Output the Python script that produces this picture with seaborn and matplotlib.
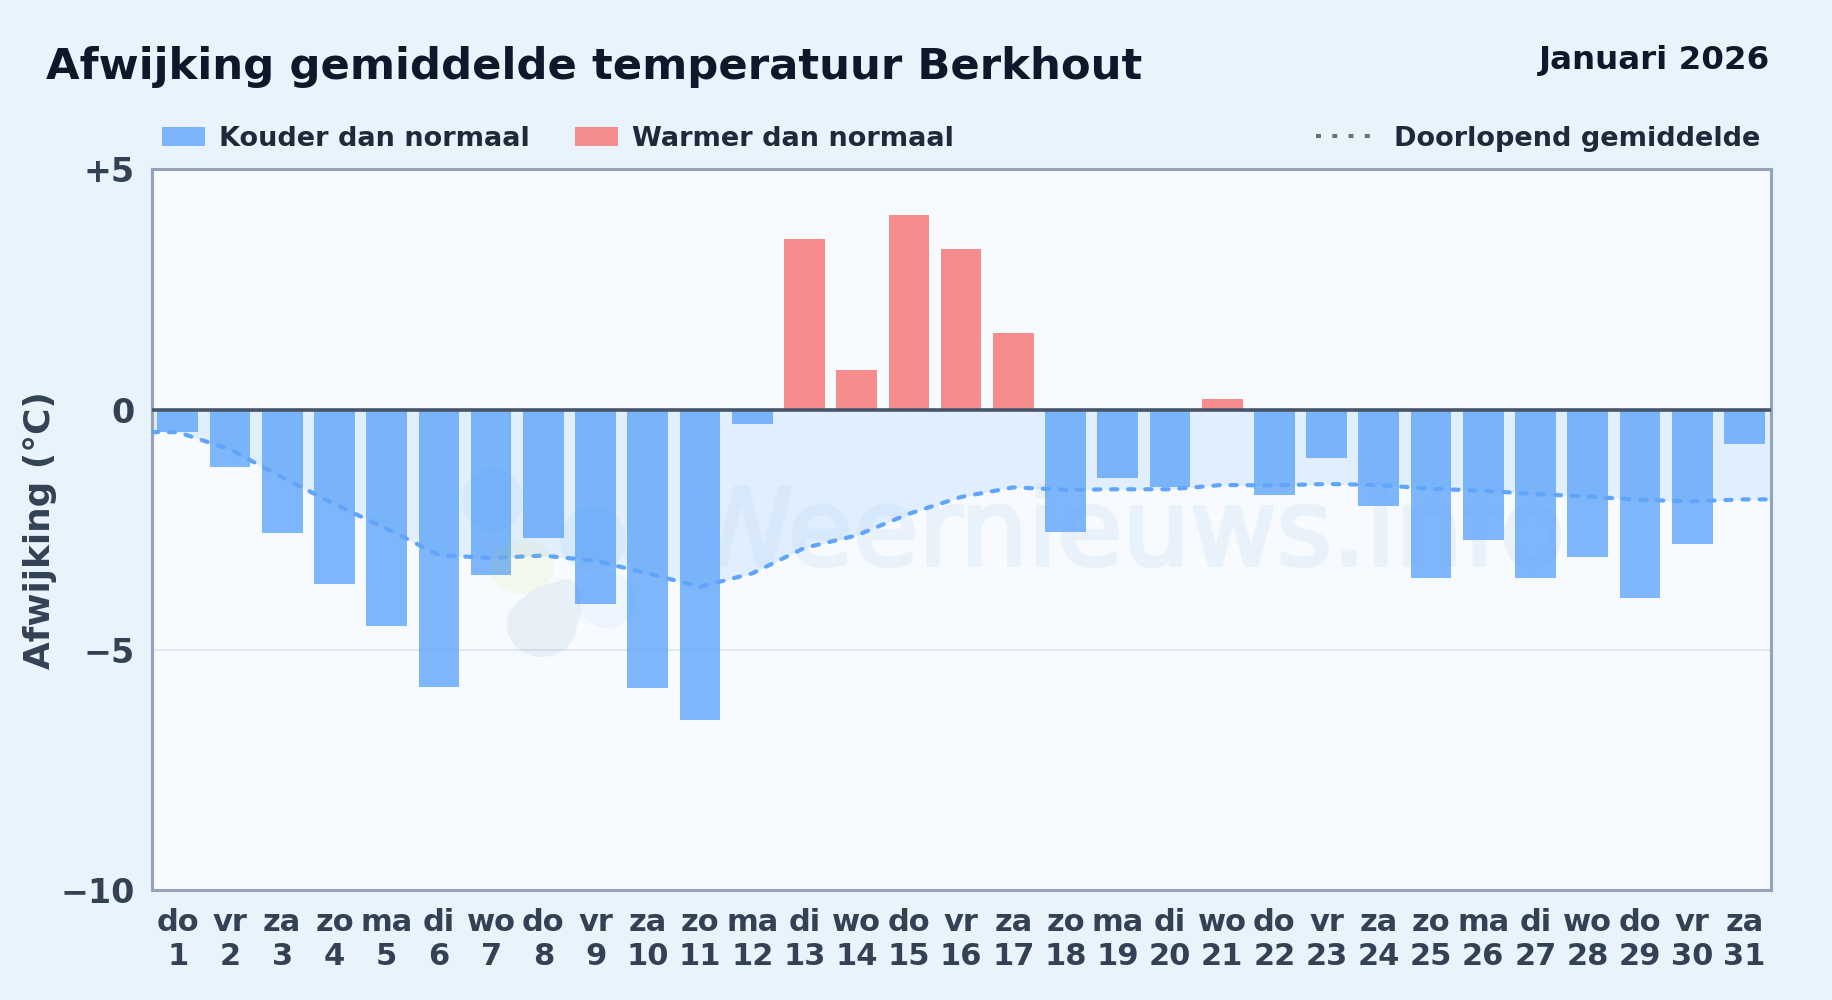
import matplotlib
matplotlib.use("Agg")
import matplotlib.pyplot as plt
from matplotlib.patches import Patch, PathPatch
from matplotlib.path import Path
from matplotlib.transforms import Affine2D
from matplotlib.lines import Line2D
import matplotlib.patheffects as pe
import numpy as np
import pandas as pd
import seaborn as sns

weekdays = ["do","vr","za","zo","ma","di","wo","do","vr","za","zo","ma","di","wo","do","vr","za","zo","ma","di","wo","do","vr","za","zo","ma","di","wo","do","vr","za"]
days = list(range(1, 32))
anomaly = [-0.47,-1.2,-2.56,-3.63,-4.5,-5.77,-3.44,-2.68,-4.04,-5.8,-6.47,-0.3,3.54,0.82,4.05,3.35,1.6,-2.54,-1.42,-1.61,0.21,-1.78,-1.0,-2.0,-3.51,-2.71,-3.51,-3.07,-3.92,-2.8,-0.71]
running = [-0.47,-0.83,-1.41,-1.97,-2.48,-3.03,-3.09,-3.04,-3.15,-3.41,-3.69,-3.41,-2.88,-2.62,-2.17,-1.82,-1.62,-1.67,-1.66,-1.66,-1.57,-1.58,-1.55,-1.57,-1.65,-1.69,-1.76,-1.81,-1.88,-1.91,-1.87]
ytick_vals = [5, 0, -5, -10]
ytick_labels = ["+5", "0", "\u22125", "\u221210"]

W, H = 1832, 1000
BG = "#e9f3fc"
L, R, T, B = 151.7, 1770.5, 169.3, 890.0
sns.set_theme(style="white")
plt.rcParams["font.family"] = ["DejaVu Sans"]

fig = plt.figure(figsize=(W/100, H/100), dpi=100, facecolor=BG)
ax = fig.add_axes([L/W, 1-B/H, (R-L)/W, (B-T)/H], facecolor="#f7fbff")

df = pd.DataFrame({"pos": range(31), "v": anomaly, "r": running})
df["kind"] = np.where(df.v < 0, "koud", "warm")
# the mean line runs on to both plot edges at its first and last value
edge = pd.DataFrame({"pos": [-0.5, 30.5], "r": [running[0], running[-1]]})
line = pd.concat([edge.iloc[:1], df[["pos", "r"]], edge.iloc[1:]], ignore_index=True)

ax.fill_between(line.pos, 0, line.r, color="#bfdbfe", alpha=0.4, lw=0, zorder=1)
ax.axhline(-5, color="#e2e8f0", lw=1.5, zorder=1)

sns.barplot(data=df, x="pos", y="v", hue="kind", palette={"koud": "#60a5fa", "warm": "#f87171"},
            dodge=False, width=0.78, alpha=0.8, legend=False, ax=ax, zorder=2, linewidth=0, saturation=1)
sns.lineplot(data=line, x="pos", y="r", ax=ax, color="#60a5fa", lw=3, zorder=3, legend=False,
             errorbar=None, sort=False)
ln = ax.lines[-1]
ln.set_linestyle((0, (1.5, 2.6)))
ln.set_dash_capstyle("round")
ax.axhline(0, color="#475569", lw=2.6, zorder=4)

# faint watermark: logo blobs and site name
def to_ax(px, py):
    return (px-L)/(R-L), (B-py)/(B-T)

def blob(parts, color, alpha):
    paths = []
    for (px, py, rx, ry) in parts:
        cx, cy = to_ax(px, py)
        tr = Affine2D().scale(rx/(R-L), ry/(B-T)).translate(cx, cy)
        paths.append(Path.unit_circle().transformed(tr))
    ax.add_patch(PathPatch(Path.make_compound_path(*paths), transform=ax.transAxes,
                           facecolor=color, alpha=alpha, lw=0, zorder=5))

blob([(541.7, 625, 35, 32), (550, 612, 31, 26), (558, 600, 22, 18), (566, 591, 13, 12)], "#23659b", 0.07)
blob([(522, 567, 32, 27)], "#ccde1a", 0.07)
blob([(493, 500, 31, 31)], "#4097de", 0.06)
blob([(593, 540, 33, 33), (607, 600, 29, 28)], "#4097de", 0.06)
tx, ty = to_ax(1127, 565)
ax.text(tx, ty, "Weernieuws.info", transform=ax.transAxes, ha="center", va="baseline",
        fontsize=76.5, color="#e9f2fa", zorder=0.5,
        path_effects=[pe.Stroke(linewidth=2.8, foreground="#e9f2fa")])

ax.set_xlim(-0.5, 30.5)
ax.set_ylim(-10, 5)
ax.set_xlabel("")
ax.set_ylabel("Afwijking (\u00b0C)", fontsize=25.8, fontweight="bold", color="#334155", labelpad=0)
ax.yaxis.set_label_coords((57.5-L)/(R-L), 0.5)
ax.set_yticks(ytick_vals, ytick_labels)
ax.set_xticks(range(31), [f"{w}\n{d}" for w, d in zip(weekdays, days)])
ax.tick_params(axis="x", length=0, labelsize=22, labelcolor="#334155", pad=13)
ax.tick_params(axis="y", length=0, labelsize=24, labelcolor="#334155", pad=12.4)
for t in ax.get_xticklabels() + ax.get_yticklabels():
    t.set_fontweight("bold")
    t.set_linespacing(1.2)
for s in ax.spines.values():
    s.set_visible(True); s.set_color("#94a3b8"); s.set_linewidth(2.2)

fig.text(46/W, 1-67/H, "Afwijking gemiddelde temperatuur Berkhout", fontsize=31.2, fontweight="bold", color="#0f172a", va="center", ha="left")
fig.text(1770/W, 1-61/H, "Januari 2026", fontsize=23.4, fontweight="bold", color="#0f172a", va="center", ha="right")

h1 = [Patch(color="#60a5fa", alpha=0.8, lw=0), Patch(color="#f87171", alpha=0.8, lw=0)]
fig.legend(h1, ["Kouder dan normaal", "Warmer dan normaal"], loc="center left", bbox_to_anchor=(162/W, 1-138.7/H),
           ncol=2, frameon=False, handlelength=1.6, handleheight=0.72, handletextpad=0.52, columnspacing=1.64,
           labelcolor="#1e293b", borderaxespad=0, borderpad=0, prop={"weight": "bold", "size": 19.5})
h2 = [Line2D([0], [0], color="#64748b", lw=3, linestyle=(0, (1.2, 2.7)))]
fig.legend(h2, ["Doorlopend gemiddelde"], loc="center right", bbox_to_anchor=(1760/W, 1-138.7/H), frameon=False,
           handlelength=2.0, handletextpad=0.87, labelcolor="#1e293b", borderaxespad=0, borderpad=0, prop={"weight": "bold", "size": 19.5})

fig.savefig("out.png", dpi=100, facecolor=BG)
